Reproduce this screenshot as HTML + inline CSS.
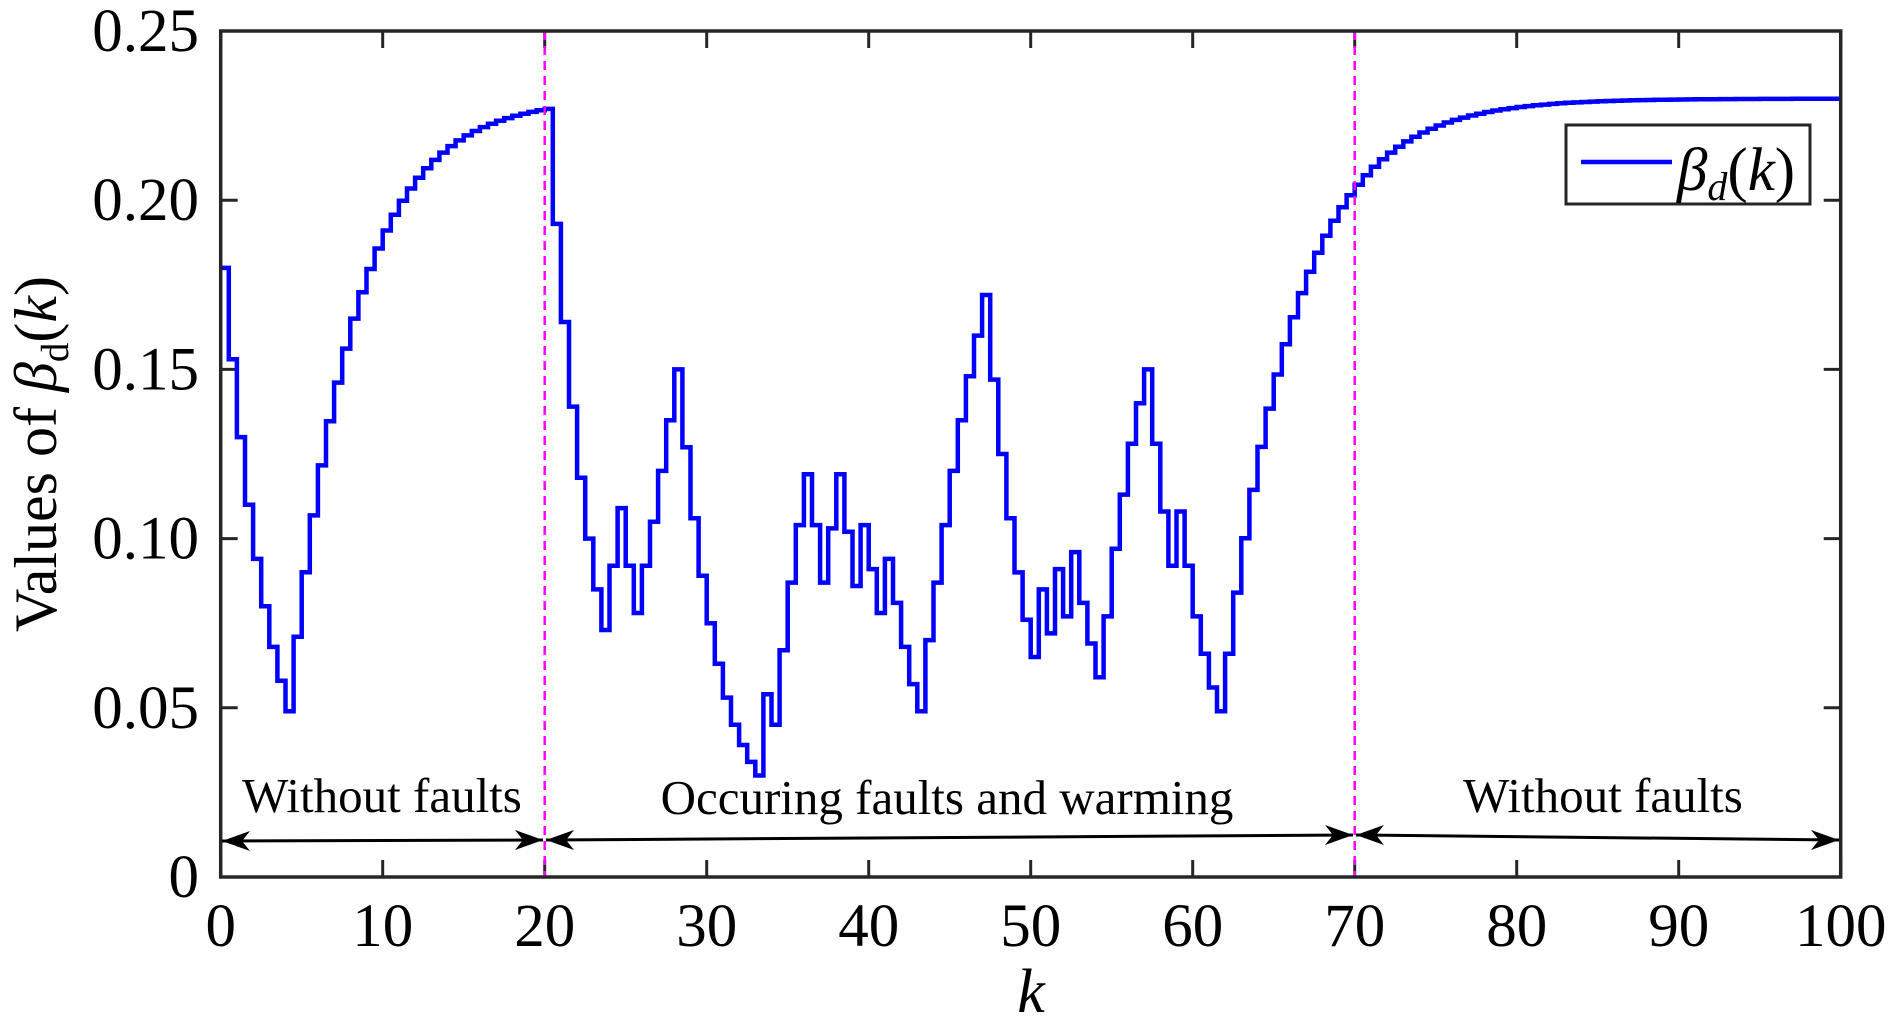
<!DOCTYPE html>
<html><head><meta charset="utf-8"><style>
html,body{margin:0;padding:0;background:#fff;}
svg{display:block;}
text{font-family:"Liberation Serif",serif;fill:#000;}
</style></head><body>
<svg id="s" width="1890" height="1036" viewBox="0 0 1890 1036" xmlns="http://www.w3.org/2000/svg">
<rect width="1890" height="1036" fill="#fff"/>
<g id="ticks" stroke="#262626" stroke-width="3"></g>
<path id="line" fill="none" stroke="#0000ff" stroke-width="4.5" stroke-linejoin="miter"/>
<line x1="544.7" y1="31" x2="544.7" y2="877" stroke="#ff00ff" stroke-width="2.5" stroke-dasharray="9,6"/>
<line x1="1354.7" y1="31" x2="1354.7" y2="877" stroke="#ff00ff" stroke-width="2.5" stroke-dasharray="9,6"/>
<rect x="220.7" y="31" width="1620" height="846" fill="none" stroke="#262626" stroke-width="3.5"/>
<g stroke="#000" stroke-width="3" fill="#000">
<line x1="222" y1="841" x2="543" y2="840"/>
<line x1="546" y1="840" x2="1353" y2="835"/>
<line x1="1356" y1="835" x2="1839" y2="840"/>
</g>
<g fill="#000">
<path d="M222,841 l28,-10 l-8,10 l8,10z"/>
<path d="M543,840 l-28,-10 l8,10 l-8,10z"/>
<path d="M546,840 l28,-10 l-8,10 l8,10z"/>
<path d="M1353,835 l-28,-10 l8,10 l-8,10z"/>
<path d="M1356,835 l28,-10 l-8,10 l8,10z"/>
<path d="M1839,840 l-28,-10 l8,10 l-8,10z"/>
</g>
<g font-size="49" text-anchor="middle">
<text x="382" y="812">Without faults</text>
<text x="947" y="814">Occuring faults and warming</text>
<text x="1603" y="812">Without faults</text>
</g>
<g id="labels" font-size="61"></g>
<text x="1031" y="1012" font-size="62" font-style="italic" text-anchor="middle">k</text>
<text transform="translate(56,454) rotate(-90)" font-size="60" text-anchor="middle">Values of <tspan font-style="italic">β</tspan><tspan font-size="39" dy="12">d</tspan><tspan dy="-12">(</tspan><tspan font-style="italic">k</tspan>)</text>
<rect x="1566" y="125" width="244" height="79" fill="#fff" stroke="#262626" stroke-width="3"/>
<line x1="1581" y1="162" x2="1672" y2="162" stroke="#0000ff" stroke-width="4.5"/>
<text x="1677" y="190" font-size="61" font-style="italic">β<tspan font-size="40" dy="10">d</tspan><tspan dy="-10" font-style="normal">(</tspan>k<tspan font-style="normal">)</tspan></text>
</svg>
<script>
var L=220.7,T=31,B=877,W=1620;
function X(k){return L+k*W/100;}
function Y(v){return B-v*(846/0.25);}
var v=[0.18,0.153,0.13,0.11,0.094,0.080,0.068,0.058,0.049];
var a=0.071;for(var n=0;n<32;n++){v.push(0.23-(0.23-a)*Math.pow(0.88,n));}
v=v.concat([0.193,0.164,0.139,0.118,0.1,0.085,0.073,0.092,0.109,0.092,0.078,0.092,0.105,0.12,0.135,0.15,0.127,0.106,0.089,0.075,0.063,0.053,0.045,0.039,0.034,0.030,0.054,0.045,0.067,0.087,0.104,0.119,0.104,0.087,0.103,0.119,0.102,0.086,0.104,0.091,0.078,0.094,0.081,0.068,0.057,0.049,0.070,0.087,0.104,0.12,0.135,0.148,0.16,0.172,0.147,0.125,0.106,0.090,0.076,0.065,0.085,0.072,0.091,0.077,0.096,0.081,0.069,0.059,0.077,0.097,0.113,0.128,0.14,0.15,0.128,0.108,0.092,0.108,0.092,0.077,0.066,0.056,0.049]);
var n=0;while(v.length<200){v.push(0.23-(0.23-0.066)*Math.pow(0.89,n));n++;}
var d="M"+X(0)+","+Y(v[0]);
for(var i=0;i<200;i++){if(i>0)d+=" L"+X(i*0.5).toFixed(1)+","+Y(v[i]).toFixed(1);d+=" L"+X((i+1)*0.5).toFixed(1)+","+Y(v[i]).toFixed(1);}
document.getElementById("line").setAttribute("d",d);
var g=document.getElementById("ticks"),lb=document.getElementById("labels"),ns="http://www.w3.org/2000/svg";
function ln(x1,y1,x2,y2){var e=document.createElementNS(ns,"line");e.setAttribute("x1",x1);e.setAttribute("y1",y1);e.setAttribute("x2",x2);e.setAttribute("y2",y2);g.appendChild(e);}
function tx(x,y,s,anc){var e=document.createElementNS(ns,"text");e.setAttribute("x",x);e.setAttribute("y",y);e.setAttribute("text-anchor",anc);e.textContent=s;lb.appendChild(e);}
for(var k=0;k<=100;k+=10){var x=X(k);ln(x,B,x,B-17);ln(x,T,x,T+17);tx(x,946,String(k),"middle");}
var yl=["0","0.05","0.10","0.15","0.20","0.25"];
for(var j=0;j<6;j++){var y=Y(j*0.05);ln(L,y,L+17,y);ln(L+W,y,L+W-17,y);tx(199,y+20,yl[j],"end");}
</script>
</body></html>
